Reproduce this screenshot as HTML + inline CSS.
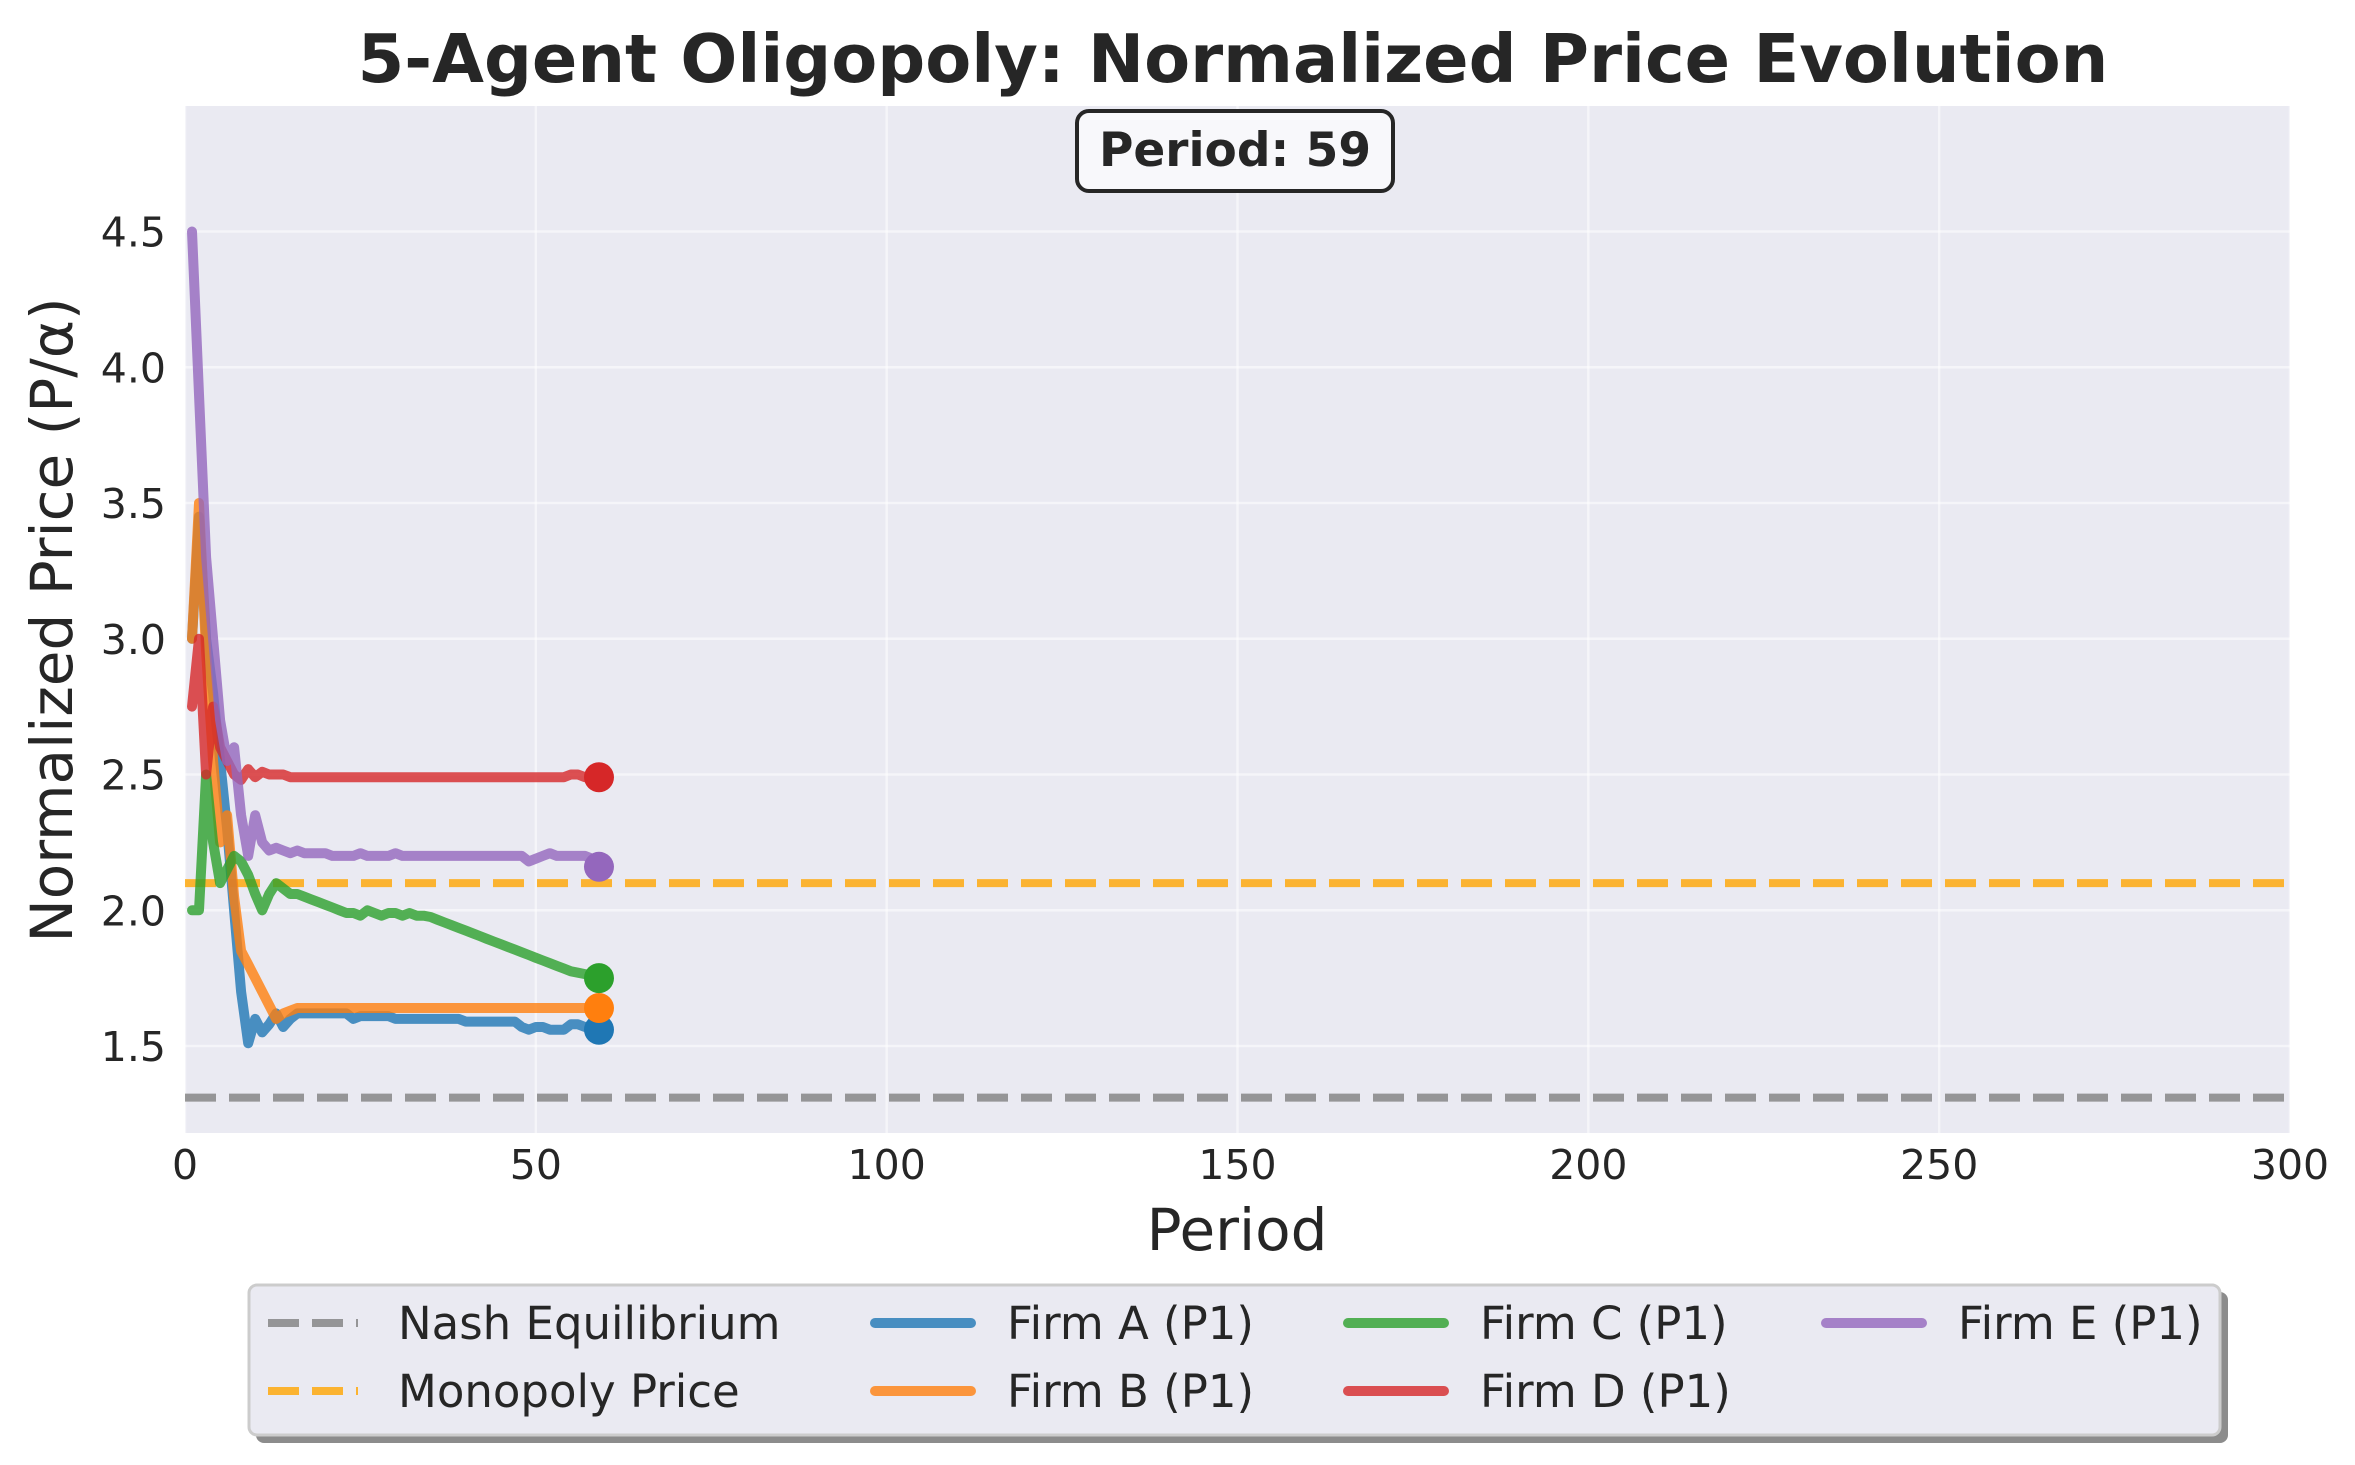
<!DOCTYPE html>
<html><head><meta charset="utf-8">
<style>
html,body{margin:0;padding:0;background:#fff;}
svg{display:block;font-family:"DejaVu Sans","Liberation Sans",sans-serif;}
</style></head>
<body>
<svg id="chart" width="2355" height="1465" viewBox="0 0 2355 1465" xmlns="http://www.w3.org/2000/svg">
<text x="1233" y="82" text-anchor="middle" font-size="67" font-weight="bold" fill="#262626">5-Agent Oligopoly: Normalized Price Evolution</text>
<rect x="185" y="106" width="2105" height="1027" fill="#eaeaf2"/>
<g id="grid"></g>
<g id="ticks"></g>
<g id="refs"></g>
<g id="series"></g>
<text x="1237" y="1250" text-anchor="middle" font-size="58" fill="#262626">Period</text>
<text transform="translate(72,620) rotate(-90)" text-anchor="middle" font-size="58" fill="#262626">Normalized Price (P/α)</text>
<g>
<rect x="1077" y="111" width="316" height="80" rx="12" fill="#f8f8fb" stroke="#262626" stroke-width="4"/>
<text x="1235" y="166" text-anchor="middle" font-size="47" font-weight="bold" fill="#262626">Period: 59</text>
</g>
<g>
<rect x="256" y="1292" width="1972" height="151" rx="8" fill="#8c8c8c"/>
<rect x="249" y="1285" width="1971" height="150" rx="8" fill="#eaeaf2" stroke="#cccccc" stroke-width="3"/>
<g id="legend-items"></g>
</g>
</svg>
<script>
const periods = [];
for (let i = 1; i <= 59; i++) periods.push(i);
const firmA = [3.0,3.45,3.0,2.8,2.55,2.3,2.0,1.7,1.51,1.6,1.55,1.58,1.62,1.57,1.6,1.62,1.62,1.62,1.62,1.62,1.62,1.62,1.62,1.6,1.61,1.61,1.61,1.61,1.61,1.6,1.6,1.6,1.6,1.6,1.6,1.6,1.6,1.6,1.6,1.59,1.59,1.59,1.59,1.59,1.59,1.59,1.59,1.57,1.56,1.57,1.57,1.56,1.56,1.56,1.58,1.58,1.57,1.57,1.56];
const firmB = [3.0,3.5,2.95,2.55,2.25,2.35,2.05,1.85,1.8,1.75,1.7,1.65,1.6,1.62,1.63,1.64,1.64,1.64,1.64,1.64,1.64,1.64,1.64,1.64,1.64,1.64,1.64,1.64,1.64,1.64,1.64,1.64,1.64,1.64,1.64,1.64,1.64,1.64,1.64,1.64,1.64,1.64,1.64,1.64,1.64,1.64,1.64,1.64,1.64,1.64,1.64,1.64,1.64,1.64,1.64,1.64,1.64,1.64,1.64];
const firmC = [2.0,2.0,2.5,2.25,2.1,2.15,2.2,2.18,2.13,2.06,2.0,2.06,2.1,2.08,2.06,2.06,2.05,2.04,2.03,2.02,2.01,2.0,1.99,1.99,1.98,2.0,1.99,1.98,1.99,1.99,1.98,1.99,1.98,1.98,1.975,1.965,1.955,1.945,1.935,1.925,1.915,1.905,1.895,1.885,1.875,1.865,1.855,1.845,1.835,1.825,1.815,1.805,1.795,1.785,1.775,1.77,1.765,1.76,1.75];
const firmD = [2.75,3.0,2.5,2.75,2.6,2.55,2.5,2.48,2.52,2.49,2.51,2.5,2.5,2.5,2.49,2.49,2.49,2.49,2.49,2.49,2.49,2.49,2.49,2.49,2.49,2.49,2.49,2.49,2.49,2.49,2.49,2.49,2.49,2.49,2.49,2.49,2.49,2.49,2.49,2.49,2.49,2.49,2.49,2.49,2.49,2.49,2.49,2.49,2.49,2.49,2.49,2.49,2.49,2.49,2.5,2.5,2.49,2.49,2.49];
const firmE = [4.5,3.9,3.3,3.0,2.7,2.55,2.6,2.35,2.2,2.35,2.25,2.22,2.23,2.22,2.21,2.22,2.21,2.21,2.21,2.21,2.2,2.2,2.2,2.2,2.21,2.2,2.2,2.2,2.2,2.21,2.2,2.2,2.2,2.2,2.2,2.2,2.2,2.2,2.2,2.2,2.2,2.2,2.2,2.2,2.2,2.2,2.2,2.2,2.18,2.19,2.2,2.21,2.2,2.2,2.2,2.2,2.2,2.19,2.16];
const nashPrice = 1.31;
const monopolyPrice = 2.1;
const xTicks = [0,50,100,150,200,250,300];
const yTicks = [1.5,2.0,2.5,3.0,3.5,4.0,4.5];

const NS = "http://www.w3.org/2000/svg";
const X0 = 185, X1 = 2290, Y_REF = 1046, Y_PER_UNIT = 271.5;
function xs(v){ return X0 + (v - 0) / 300 * (X1 - X0); }
function ys(v){ return Y_REF - (v - 1.5) * Y_PER_UNIT; }
function mk(tag, attrs, parent){ const e = document.createElementNS(NS, tag); for (const k in attrs) e.setAttribute(k, attrs[k]); parent.appendChild(e); return e; }

const grid = document.getElementById('grid');
const ticks = document.getElementById('ticks');
xTicks.forEach(t => {
  const l = mk('line', {x1: xs(t), x2: xs(t), y1: 106, y2: 1133, stroke: '#ffffff', 'stroke-opacity': 0.5, 'stroke-width': 2.5}, grid);
  
  
  const tx = mk('text', {x: xs(t), y: 1179, 'text-anchor': 'middle', 'font-size': 41, fill: '#262626'}, ticks);
  tx.textContent = t;
  
  
});
yTicks.forEach(t => {
  const l = mk('line', {x1: X0, x2: X1, y1: ys(t), y2: ys(t), stroke: '#ffffff', 'stroke-opacity': 0.5, 'stroke-width': 2.5}, grid);
  
  
  const tx = mk('text', {x: 166, y: ys(t) + 15, 'text-anchor': 'end', 'font-size': 41, fill: '#262626'}, ticks);
  tx.textContent = t.toFixed(1);
  
  
});

const refs = document.getElementById('refs');
const nl = mk('line', {x1: X0, x2: X1, y1: ys(nashPrice), y2: ys(nashPrice), stroke: '#808080', 'stroke-opacity': 0.8, 'stroke-width': 8, 'stroke-dasharray': '31,13'}, refs);


const ml = mk('line', {x1: X0, x2: X1, y1: ys(monopolyPrice), y2: ys(monopolyPrice), stroke: '#ffa500', 'stroke-opacity': 0.8, 'stroke-width': 8, 'stroke-dasharray': '31,13'}, refs);



const seriesG = document.getElementById('series');
const seriesList = [
  {d: firmA, c: '#1f77b4', n: 'firm-a'},
  {d: firmB, c: '#ff7f0e', n: 'firm-b'},
  {d: firmC, c: '#2ca02c', n: 'firm-c'},
  {d: firmD, c: '#d62728', n: 'firm-d'},
  {d: firmE, c: '#9467bd', n: 'firm-e'}
];
seriesList.forEach(s => {
  const pts = s.d.map((v, i) => xs(periods[i]).toFixed(1) + ',' + ys(v).toFixed(1)).join(' ');
  const pl = mk('polyline', {points: pts, fill: 'none', stroke: s.c, 'stroke-opacity': 0.8, 'stroke-width': 10, 'stroke-linejoin': 'round', 'stroke-linecap': 'round'}, seriesG);
  
  
});
seriesList.forEach(s => {
  const last = s.d.length - 1;
  const c = mk('circle', {cx: xs(periods[last]), cy: ys(s.d[last]), r: 15, fill: s.c}, seriesG);
  
  
});

const lg = document.getElementById('legend-items');
const legendItems = [
  {label: 'Nash Equilibrium', c: '#808080', dash: true, x: 268, y: 1323},
  {label: 'Monopoly Price', c: '#ffa500', dash: true, x: 268, y: 1391},
  {label: 'Firm A (P1)', c: '#1f77b4', dash: false, x: 871, y: 1323},
  {label: 'Firm B (P1)', c: '#ff7f0e', dash: false, x: 871, y: 1391},
  {label: 'Firm C (P1)', c: '#2ca02c', dash: false, x: 1344, y: 1323},
  {label: 'Firm D (P1)', c: '#d62728', dash: false, x: 1344, y: 1391},
  {label: 'Firm E (P1)', c: '#9467bd', dash: false, x: 1822, y: 1323}
];
legendItems.forEach(it => {
  const g = mk('g', {}, lg);
  
  
  if (it.dash) {
    mk('line', {x1: it.x, x2: it.x + 90, y1: it.y, y2: it.y, stroke: it.c, 'stroke-opacity': 0.8, 'stroke-width': 8, 'stroke-dasharray': '31,13'}, g);
  } else {
    mk('line', {x1: it.x + 4, x2: it.x + 100, y1: it.y, y2: it.y, stroke: it.c, 'stroke-opacity': 0.8, 'stroke-width': 10, 'stroke-linecap': 'round'}, g);
  }
  const t = mk('text', {x: it.x + (it.dash ? 130 : 136), y: it.y + 16, 'font-size': 45, fill: '#262626'}, g);
  t.textContent = it.label;
});
</script>
</body></html>
